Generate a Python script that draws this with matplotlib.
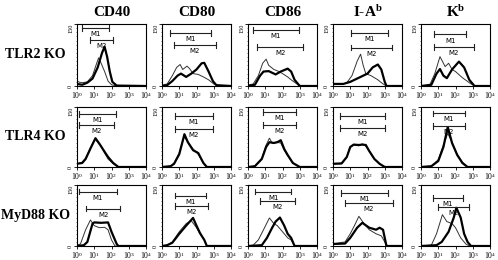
import matplotlib
matplotlib.use("Agg")
import matplotlib.pyplot as plt
import numpy as np

plt.rcParams['font.family'] = ['Liberation Serif', 'DejaVu Serif']
plt.rcParams['mathtext.default'] = 'regular'

columns = ["CD40", "CD80", "CD86", "I-A$^{b}$", "K$^{b}$"]
rows = ["TLR2 KO", "TLR4 KO", "MyD88 KO"]
xtick_labels = ["$10^{0}$", "$10^{1}$", "$10^{2}$", "$10^{3}$", "$10^{4}$"]
ytick_labels = ["0", "150"]

# Histogram traces: (log10 fluorescence, count)
thin = {
    (0, 0): [(0, 12), (0.15, 9), (0.3, 8), (0.6, 10), (0.9, 25), (1.1, 50), (1.25, 68), (1.4, 55), (1.6, 35), (1.8, 12), (2.0, 3), (2.3, 0), (4, 0)],
    (0, 1): [(0, 2), (0.3, 5), (0.6, 25), (0.85, 45), (1.05, 52), (1.2, 40), (1.45, 48), (1.6, 42), (1.8, 30), (2.1, 28), (2.4, 22), (2.7, 15), (3.0, 5), (3.3, 0), (4, 0)],
    (0, 2): [(0, 2), (0.3, 5), (0.6, 25), (0.85, 55), (1.05, 65), (1.2, 50), (1.5, 40), (1.8, 35), (2.0, 30), (2.3, 22), (2.5, 15), (2.8, 6), (3.0, 0), (4, 0)],
    (0, 3): [(0, 5), (0.5, 4), (0.8, 8), (1.1, 25), (1.4, 60), (1.6, 77), (1.75, 50), (1.9, 30), (2.2, 25), (2.6, 15), (2.9, 5), (3.1, 0), (4, 0)],
    (0, 4): [(0, 0), (0.5, 2), (0.8, 30), (1.1, 71), (1.4, 47), (1.6, 55), (1.8, 40), (2.0, 35), (2.4, 20), (2.9, 5), (3.2, 0), (4, 0)],
    (1, 0): [(0, 8), (0.3, 12), (0.5, 22), (0.8, 50), (1.05, 70), (1.2, 62), (1.4, 52), (1.6, 35), (1.8, 20), (2.1, 8), (2.4, 0), (4, 0)],
    (1, 1): [(0, 0), (0.5, 2), (0.7, 10), (1.0, 35), (1.2, 65), (1.3, 75), (1.5, 62), (1.8, 45), (2.1, 32), (2.4, 10), (2.6, 0), (4, 0)],
    (1, 2): [(0, 0), (0.4, 2), (0.8, 22), (1.05, 55), (1.24, 72), (1.4, 60), (1.6, 62), (1.9, 60), (2.1, 42), (2.3, 28), (2.6, 10), (3.0, 0), (4, 0)],
    (1, 3): [(0, 8), (0.5, 8), (0.8, 25), (1.0, 50), (1.2, 55), (1.5, 53), (1.7, 58), (1.9, 52), (2.1, 40), (2.4, 20), (2.7, 8), (3.0, 0), (4, 0)],
    (1, 4): [(0, 0), (0.6, 2), (1.0, 18), (1.3, 55), (1.55, 84), (1.8, 62), (2.1, 32), (2.4, 12), (2.7, 0), (4, 0)],
    (2, 0): [(0, 2), (0.2, 5), (0.5, 40), (0.78, 64), (1.0, 50), (1.3, 45), (1.6, 46), (1.8, 40), (2.0, 15), (2.2, 0), (4, 0)],
    (2, 1): [(0, 0), (0.3, 2), (0.6, 10), (1.0, 35), (1.4, 55), (1.7, 62), (2.0, 45), (2.2, 30), (2.45, 15), (2.6, 0), (4, 0)],
    (2, 2): [(0, 0), (0.3, 2), (0.6, 15), (0.9, 40), (1.24, 69), (1.5, 55), (1.7, 50), (2.0, 35), (2.3, 20), (2.5, 15), (2.7, 0), (4, 0)],
    (2, 3): [(0, 5), (0.7, 10), (1.0, 30), (1.3, 55), (1.5, 73), (1.8, 55), (2.1, 40), (2.5, 30), (2.8, 25), (3.0, 10), (3.1, 0), (4, 0)],
    (2, 4): [(0, 0), (0.6, 2), (0.9, 30), (1.24, 77), (1.5, 60), (1.8, 55), (2.0, 45), (2.3, 20), (2.6, 5), (2.8, 0), (4, 0)],
}
thick = {
    (0, 0): [(0, 5), (0.3, 3), (0.6, 8), (0.9, 18), (1.2, 45), (1.45, 80), (1.6, 95), (1.75, 70), (1.9, 35), (2.05, 10), (2.3, 1), (4, 0)],
    (0, 1): [(0, 0), (0.3, 2), (0.6, 12), (0.9, 25), (1.1, 30), (1.4, 22), (1.7, 30), (2.0, 40), (2.3, 55), (2.45, 56), (2.7, 35), (2.95, 12), (3.15, 2), (4, 0)],
    (0, 2): [(0, 0), (0.4, 3), (0.7, 25), (0.9, 35), (1.2, 36), (1.6, 28), (1.9, 35), (2.3, 42), (2.5, 35), (2.7, 15), (3.0, 0), (4, 0)],
    (0, 3): [(0, 5), (0.6, 5), (1.0, 10), (1.5, 20), (2.0, 30), (2.3, 45), (2.6, 52), (2.8, 40), (3.0, 10), (3.1, 0), (4, 0)],
    (0, 4): [(0, 0), (0.6, 3), (0.9, 30), (1.1, 41), (1.3, 25), (1.5, 19), (1.8, 40), (2.2, 59), (2.5, 45), (2.8, 15), (3.1, 0), (4, 0)],
    (1, 0): [(0, 8), (0.3, 10), (0.5, 20), (0.8, 48), (1.07, 72), (1.3, 58), (1.6, 38), (1.8, 25), (2.1, 10), (2.4, 0), (4, 0)],
    (1, 1): [(0, 0), (0.5, 2), (0.7, 8), (1.0, 32), (1.2, 65), (1.3, 82), (1.5, 62), (1.8, 42), (2.1, 35), (2.4, 10), (2.6, 0), (4, 0)],
    (1, 2): [(0, 0), (0.4, 2), (0.8, 20), (1.05, 50), (1.24, 62), (1.5, 60), (1.7, 62), (1.9, 67), (2.1, 45), (2.3, 30), (2.6, 10), (3.0, 0), (4, 0)],
    (1, 3): [(0, 8), (0.5, 9), (0.8, 25), (1.0, 50), (1.2, 56), (1.5, 55), (1.7, 56), (1.9, 55), (2.1, 40), (2.4, 20), (2.7, 8), (3.0, 0), (4, 0)],
    (1, 4): [(0, 0), (0.6, 2), (1.0, 15), (1.3, 50), (1.55, 100), (1.8, 60), (2.1, 30), (2.4, 10), (2.7, 0), (4, 0)],
    (2, 0): [(0, 0), (0.4, 2), (0.6, 10), (0.9, 55), (1.0, 58), (1.4, 57), (1.8, 58), (2.0, 35), (2.3, 5), (2.4, 0), (4, 0)],
    (2, 1): [(0, 0), (0.3, 2), (0.6, 8), (1.0, 30), (1.4, 50), (1.8, 69), (2.0, 50), (2.2, 32), (2.45, 15), (2.6, 0), (4, 0)],
    (2, 2): [(0, 0), (0.8, 2), (1.1, 20), (1.4, 45), (1.6, 60), (1.85, 70), (2.1, 50), (2.3, 30), (2.5, 20), (2.7, 0), (4, 0)],
    (2, 3): [(0, 5), (0.7, 6), (1.0, 20), (1.4, 45), (1.7, 57), (2.1, 45), (2.5, 40), (2.7, 45), (2.9, 40), (3.1, 0), (4, 0)],
    (2, 4): [(0, 0), (0.9, 2), (1.2, 10), (1.6, 35), (1.9, 70), (2.05, 94), (2.3, 70), (2.5, 30), (2.7, 10), (2.9, 0), (4, 0)],
}
# Marker gates: (low log10, high log10, level)
m1 = {
    (0, 0): (0.29, 1.87, 140), (0, 1): (0.48, 2.86, 128), (0, 2): (0.30, 2.93, 135), (0, 3): (1.03, 3.2, 128), (0, 4): (0.76, 2.63, 125),
    (1, 0): (0.11, 2.27, 132), (1, 1): (0.74, 2.93, 128), (1, 2): (0.86, 2.76, 138), (1, 3): (0.38, 3.0, 128), (1, 4): (0.70, 2.53, 134),
    (2, 0): (0.13, 2.30, 134), (2, 1): (0.76, 2.57, 124), (2, 2): (0.42, 2.51, 134), (2, 3): (0.44, 3.18, 130), (2, 4): (0.67, 2.44, 118),
}
m2 = {
    (0, 0): (0.76, 2.10, 111), (0, 1): (0.67, 3.14, 99), (0, 2): (0.53, 3.20, 95), (0, 3): (1.03, 3.4, 93), (0, 4): (0.76, 3.05, 95),
    (1, 0): (0.11, 2.17, 105), (1, 1): (0.74, 2.93, 95), (1, 2): (0.86, 2.76, 105), (1, 3): (0.38, 3.0, 97), (1, 4): (0.70, 2.53, 102),
    (2, 0): (0.55, 2.51, 92), (2, 1): (0.76, 2.66, 98), (2, 2): (0.72, 2.70, 110), (2, 3): (0.70, 3.47, 106), (2, 4): (1.01, 2.78, 96),
}

W, H = 498, 260
fig = plt.figure(figsize=(W / 100, H / 100), dpi=100)
col_left = [77, 162, 248, 333, 421]
col_w = 69
row_top = [24, 107, 185]
row_bot = [86, 167, 246]

for r in range(3):
    for c in range(5):
        ax = fig.add_axes([col_left[c] / W, 1 - row_bot[r] / H, col_w / W, (row_bot[r] - row_top[r]) / H])
        ax.set_xscale('log')
        ax.set_xlim(1, 1e4)
        ax.set_ylim(0, 150)
        t = np.array(thin[(r, c)], dtype=float)
        k = np.array(thick[(r, c)], dtype=float)
        ax.plot(10 ** t[:, 0], t[:, 1], color='#333333', lw=0.7)
        ax.plot(10 ** k[:, 0], k[:, 1], color='black', lw=1.6)
        for lab, (lo, hi, lev) in (("M1", m1[(r, c)]), ("M2", m2[(r, c)])):
            ax.plot([10 ** lo, 10 ** hi], [lev, lev], color='#222222', lw=0.8)
            ax.plot([10 ** lo, 10 ** lo], [lev - 7, lev + 7], color='#222222', lw=0.8)
            ax.plot([10 ** hi, 10 ** hi], [lev - 7, lev + 7], color='#222222', lw=0.8)
            ax.text(10 ** ((lo + hi) / 2), lev - 15, lab, ha='center', va='center',
                    fontsize=5, family='DejaVu Sans')
        ax.set_xticks([1, 10, 100, 1000, 10000])
        ax.set_xticklabels(xtick_labels, fontsize=5.5)
        ax.set_yticks([0, 150])
        ax.set_yticklabels(ytick_labels, fontsize=4.5, rotation=90)
        yl = ax.get_yticklabels()
        yl[0].set_va('center')
        yl[1].set_va('top')
        ax.yaxis.set_minor_locator(matplotlib.ticker.MultipleLocator(10))
        ax.tick_params(axis='both', which='major', length=2, width=0.6, pad=0.8)
        ax.tick_params(axis='both', which='minor', length=1, width=0.4)
        for s in ax.spines.values():
            s.set_linewidth(0.8)
        if r == 0:
            fig.text((col_left[c] + col_w / 2) / W, 1 - 12 / H, columns[c], ha='center', va='center',
                     fontsize=11, fontweight='bold')
    fig.text(35 / W, 1 - ((row_top[r] + row_bot[r]) / 2) / H, rows[r], ha='center', va='center',
             fontsize=10, fontweight='bold')

fig.savefig('out.png', dpi=100)
